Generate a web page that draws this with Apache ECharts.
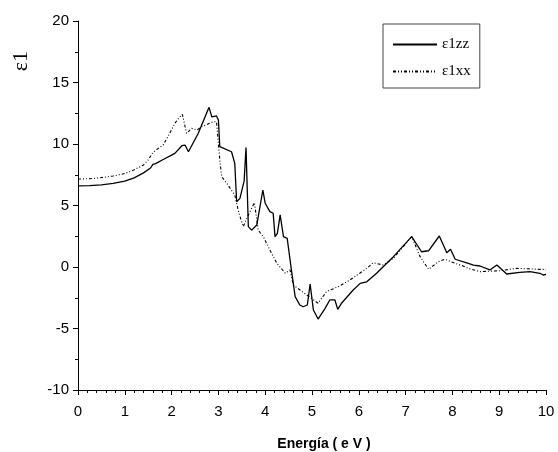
<!DOCTYPE html>
<html>
<head>
<meta charset="utf-8">
<script src="https://cdn.jsdelivr.net/npm/echarts@6/dist/echarts.min.js"></script>
<style>
  html, body { margin: 0; padding: 0; background: #fff; }
  #chart { width: 558px; height: 452px; }
</style>
</head>
<body>
<div id="chart"></div>
<script>
// ε1zz (solid)
const zzE = [0, 0.25, 0.5, 0.75, 1.0, 1.2, 1.4, 1.55, 1.6, 1.66, 1.8, 2.07, 2.22, 2.29, 2.36, 2.57, 2.8, 2.86, 2.96, 3.0, 3.03, 3.28, 3.35, 3.39, 3.46, 3.55, 3.59, 3.64, 3.71, 3.82, 3.85, 3.95, 4.0, 4.1, 4.17, 4.21, 4.26, 4.32, 4.39, 4.47, 4.56, 4.64, 4.74, 4.81, 4.9, 4.96, 5.03, 5.13, 5.17, 5.28, 5.38, 5.49, 5.55, 5.63, 5.88, 6.03, 6.17, 6.38, 6.74, 7.13, 7.34, 7.49, 7.72, 7.88, 7.96, 8.06, 8.34, 8.45, 8.59, 8.8, 8.95, 9.16, 9.44, 9.66, 9.87, 9.94, 10];
const zzV = [6.6, 6.62, 6.68, 6.8, 6.98, 7.25, 7.65, 8.05, 8.35, 8.4, 8.7, 9.24, 9.86, 9.9, 9.37, 10.87, 12.98, 12.2, 12.28, 11.95, 9.78, 9.37, 8.42, 5.31, 5.58, 7.0, 9.72, 3.28, 3.0, 3.41, 3.28, 6.26, 5.18, 4.5, 4.37, 2.47, 2.74, 4.23, 2.47, 2.33, -0.24, -2.41, -3.09, -3.23, -3.09, -1.38, -3.5, -4.23, -4.31, -3.36, -2.68, -2.68, -3.44, -2.95, -1.87, -1.33, -1.2, -0.51, 0.84, 2.47, 1.24, 1.32, 2.52, 1.16, 1.44, 0.63, 0.3, 0.16, 0.08, -0.24, 0.16, -0.57, -0.43, -0.38, -0.51, -0.65, -0.6];

// ε1xx (dash-dot)
const xxE = [0, 0.25, 0.5, 0.75, 1.0, 1.2, 1.4, 1.5, 1.6, 1.7, 1.82, 1.95, 2.07, 2.15, 2.23, 2.32, 2.43, 2.54, 2.64, 2.89, 2.96, 3.03, 3.07, 3.18, 3.35, 3.43, 3.53, 3.64, 3.77, 3.85, 3.96, 4.1, 4.25, 4.43, 4.53, 4.6, 4.89, 5.13, 5.31, 5.56, 5.81, 6.17, 6.31, 6.52, 6.74, 7.13, 7.31, 7.49, 7.7, 7.84, 8.06, 8.23, 8.34, 8.59, 9.02, 9.37, 9.87, 10];
const xxV = [7.15, 7.18, 7.27, 7.4, 7.6, 7.9, 8.3, 8.7, 9.3, 9.6, 9.92, 10.8, 11.68, 12.1, 12.41, 10.87, 11.27, 11.14, 11.4, 11.81, 11.8, 8.7, 7.34, 6.8, 5.85, 4.5, 3.28, 4.23, 5.23, 3.0, 2.47, 1.38, 0.3, -0.51, -0.24, -1.46, -2.28, -2.95, -2.0, -1.6, -1.06, -0.11, 0.35, 0.16, 0.71, 2.47, 0.84, -0.19, 0.43, 0.63, 0.3, 0.08, -0.11, -0.38, -0.3, -0.11, -0.19, -0.2];

const seriesNames = ['ε1zz', 'ε1xx'];
const xTicks = [0, 10, 1];
const yTicks = [-10, 20, 5];

const pairs = (xs, ys) => xs.map((x, i) => [x, ys[i]]);

const chart = echarts.init(document.getElementById('chart'));

const axisCommon = {
  axisLine: { show: true, onZero: false, lineStyle: { color: '#000', width: 1 } },
  axisTick: { show: true, inside: false, length: 5, lineStyle: { color: '#000' } },
  minorTick: { show: true, length: 3, lineStyle: { color: '#000' } },
  splitLine: { show: false },
  axisLabel: { color: '#000', fontFamily: 'Liberation Sans', fontSize: 15 }
};

chart.setOption({
  animation: false,
  backgroundColor: '#fff',
  grid: { left: 78, right: 12, top: 21, bottom: 62, containLabel: false, outerBoundsMode: 'none' },
  xAxis: {
    type: 'value',
    min: xTicks[0], max: xTicks[1], interval: xTicks[2],
    ...axisCommon,
    minorTick: { ...axisCommon.minorTick, splitNumber: 5 },
    axisLabel: { ...axisCommon.axisLabel, margin: 14 },
    name: 'Energía ( e V )',
    nameLocation: 'middle',
    nameGap: 47,
    nameTextStyle: {
      color: '#000', fontFamily: 'Liberation Sans', fontSize: 14, fontWeight: 'bold',
      padding: [0, 0, 0, 24]
    }
  },
  yAxis: {
    type: 'value',
    min: yTicks[0], max: yTicks[1], interval: yTicks[2],
    ...axisCommon,
    minorTick: { ...axisCommon.minorTick, splitNumber: 2 },
    axisLabel: { ...axisCommon.axisLabel, margin: 9 }
  },
  graphic: [{
    type: 'text',
    left: 10,
    top: 51,
    rotation: Math.PI / 2,
    style: { text: 'ε1', fontFamily: 'Liberation Serif', fontSize: 22, fill: '#000' }
  }],
  legend: {
    orient: 'vertical',
    left: 383,
    top: 24,
    data: seriesNames,
    itemWidth: 44,
    itemHeight: 14,
    itemGap: 12,
    padding: [13, 9, 9, 9],
    borderColor: '#444',
    borderWidth: 1,
    itemStyle: { opacity: 0 },
    textStyle: { color: '#000', fontFamily: 'Liberation Serif', fontSize: 15 }
  },
  series: [
    {
      name: seriesNames[0],
      type: 'line',
      data: pairs(zzE, zzV),
      symbol: 'none',
      showSymbol: false,
      lineStyle: { color: '#000', width: 1.3, type: 'solid' },
      itemStyle: { color: '#000' }
    },
    {
      name: seriesNames[1],
      type: 'line',
      data: pairs(xxE, xxV),
      symbol: 'none',
      showSymbol: false,
      lineStyle: { color: '#000', width: 1.1, type: [3, 2, 1, 2, 1, 2] },
      itemStyle: { color: '#000' }
    }
  ]
});
</script>
</body>
</html>
